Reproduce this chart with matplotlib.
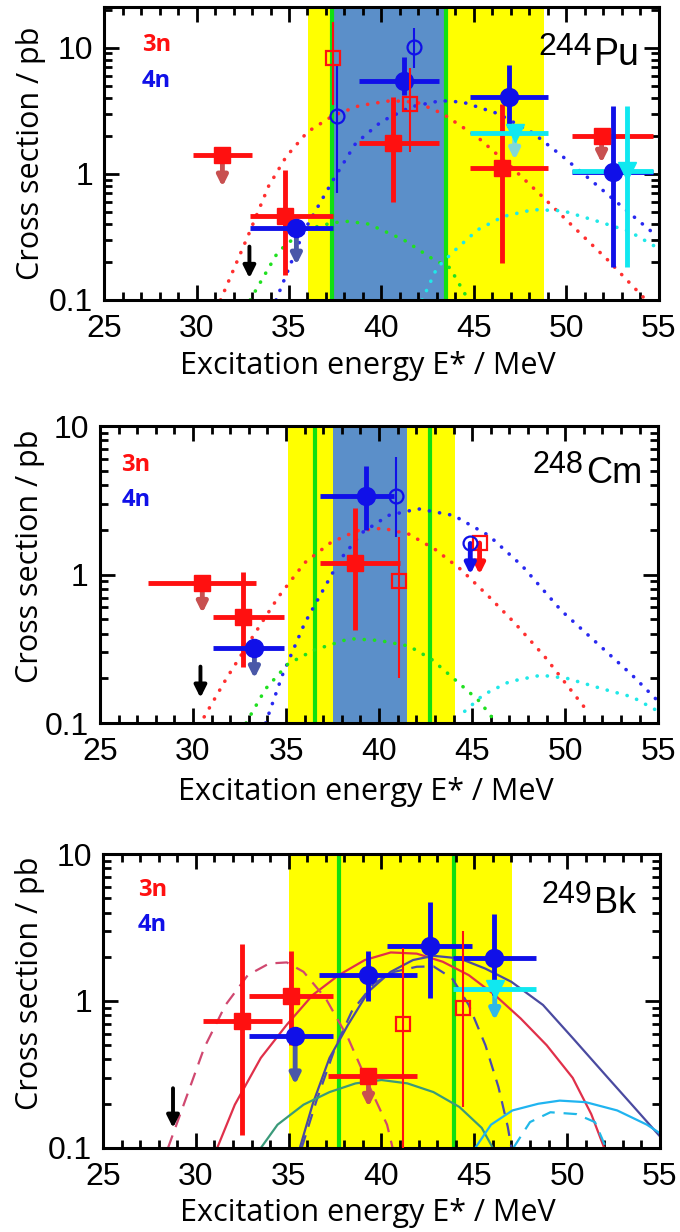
import matplotlib
matplotlib.use("Agg")
import matplotlib.pyplot as plt
from matplotlib import ticker
import numpy as np

# ---------------- 244Pu ----------------
pu_3n_E = [31.4, 34.8, 40.6, 46.5, 51.9]
pu_3n_sig = [1.40, 0.46, 1.75, 1.12, 1.98]
pu_3n_Elo = [29.8, 32.9, 38.8, 44.8, 50.3]
pu_3n_Ehi = [33.0, 37.4, 43.1, 49.0, 54.7]
pu_3n_siglo = [1.40, 0.157, 0.60, 0.195, 1.98]
pu_3n_sighi = [1.40, 1.07, 4.06, 3.6, 1.98]
pu_3n_lim = [0.79, None, None, None, 1.22]

pu_4n_E = [35.4, 41.2, 46.9, 52.5]
pu_4n_sig = [0.37, 5.4, 4.06, 1.04]
pu_4n_Elo = [32.9, 38.8, 44.8, 50.3]
pu_4n_Ehi = [37.4, 43.1, 49.0, 54.7]
pu_4n_siglo = [0.37, 4.2, 2.37, 0.184]
pu_4n_sighi = [0.37, 8.4, 7.3, 3.42]
pu_4n_lim = [0.19, None, None, None]

pu_5n_E = [47.2, 53.25]
pu_5n_sig = [2.1, 1.06]
pu_5n_Elo = [44.8, 50.3]
pu_5n_Ehi = [49.0, 54.7]
pu_5n_siglo = [2.1, 0.184]
pu_5n_sighi = [2.1, 3.45]
pu_5n_lim = [1.29, None]

pu_3n_open_E = [37.36, 41.54]
pu_3n_open_sig = [8.3, 3.57]
pu_3n_open_lo = [3.5, 1.5]
pu_3n_open_hi = [16.0, 6.9]
pu_4n_open_E = [37.57, 41.76]
pu_4n_open_sig = [2.85, 10.2]
pu_4n_open_lo = [0.71, 6.9]
pu_4n_open_hi = [7.3, 14.3]

pu_curve_3n_E = [31.3, 32.85, 33.9, 34.85, 36.0, 37.4, 38.8, 40.5, 41.9, 43.3, 45.2, 47.0, 48.7, 50.3, 52.2, 54.3]
pu_curve_3n_s = [0.1, 0.34, 0.80, 1.37, 2.15, 2.9, 3.47, 3.8, 3.7, 3.0, 1.95, 1.14, 0.66, 0.39, 0.21, 0.1]
pu_curve_4n_E = [34.3, 35.8, 37.4, 38.6, 40.0, 41.6, 43.2, 44.4, 46.3, 48.2, 49.8, 51.7, 53.4, 54.9]
pu_curve_4n_s = [0.1, 0.35, 0.9, 1.74, 2.6, 3.4, 3.8, 3.7, 3.0, 2.1, 1.37, 0.8, 0.49, 0.32]
pu_curve_2n_E = [32.9, 34.4, 35.8, 37.4, 38.2, 39.3, 41.2, 42.8, 43.7, 44.7]
pu_curve_2n_s = [0.1, 0.24, 0.36, 0.41, 0.42, 0.40, 0.30, 0.21, 0.18, 0.1]
pu_curve_5n_E = [42.2, 43.0, 44.0, 45.2, 46.6, 48.2, 49.8, 51.7, 53.4, 54.9]
pu_curve_5n_s = [0.1, 0.18, 0.25, 0.36, 0.46, 0.52, 0.51, 0.42, 0.35, 0.26]

pu_arrow = [32.86, 0.265, 0.149]
pu_yellow = [36.05, 48.8]
pu_blue = [37.39, 43.52]
pu_green = [37.3, 43.5]

# ---------------- 248Cm ----------------
cm_3n_E = [30.5, 32.7, 38.7]
cm_3n_sig = [0.88, 0.52, 1.19]
cm_3n_Elo = [27.6, 31.1, 36.8]
cm_3n_Ehi = [33.4, 34.9, 41.1]
cm_3n_siglo = [0.88, 0.24, 0.42]
cm_3n_sighi = [0.88, 1.04, 2.8]
cm_3n_lim = [0.55, None, None]

cm_4n_E = [33.3, 39.3]
cm_4n_sig = [0.32, 3.39]
cm_4n_Elo = [31.1, 36.8]
cm_4n_Ehi = [34.9, 40.8]
cm_4n_siglo = [0.32, 2.0]
cm_4n_sighi = [0.32, 5.4]
cm_4n_lim = [0.2, None]

cm_3n_open_E = [41.05, 45.4]
cm_3n_open_sig = [0.9, 1.63]
cm_3n_open_lo = [0.2, 1.63]
cm_3n_open_hi = [1.8, 1.63]
cm_3n_open_lim = [None, 1.0]
cm_4n_open_E = [40.9, 44.9]
cm_4n_open_sig = [3.4, 1.62]
cm_4n_open_lo = [1.8, 1.62]
cm_4n_open_hi = [6.2, 1.62]
cm_4n_open_lim = [None, 1.0]

cm_curve_3n_E = [30.6, 31.8, 33.2, 34.6, 36.0, 37.4, 38.8, 40.2, 41.6, 43.0, 44.4, 45.9, 47.3, 48.9, 50.1, 51.2]
cm_curve_3n_s = [0.11, 0.2, 0.38, 0.71, 1.2, 1.64, 1.97, 2.05, 1.87, 1.48, 1.08, 0.71, 0.47, 0.28, 0.18, 0.12]
cm_curve_4n_E = [33.9, 34.8, 36.0, 37.0, 37.9, 39.1, 40.5, 42.1, 44.0, 45.9, 47.7, 49.8, 52.0, 53.6, 55.0]
cm_curve_4n_s = [0.1, 0.21, 0.47, 0.79, 1.26, 1.92, 2.5, 2.77, 2.5, 1.83, 1.14, 0.57, 0.32, 0.21, 0.14]
cm_curve_2n_E = [32.85, 33.9, 35.1, 36.5, 38.4, 40.0, 41.6, 42.8, 44.2, 45.4, 46.3]
cm_curve_2n_s = [0.1, 0.17, 0.25, 0.31, 0.37, 0.36, 0.33, 0.27, 0.19, 0.14, 0.1]
cm_curve_5n_E = [44.6, 45.6, 47.0, 48.7, 50.1, 52.0, 53.6, 55.0]
cm_curve_5n_s = [0.12, 0.155, 0.19, 0.21, 0.2, 0.17, 0.15, 0.12]

cm_arrow = [30.4, 0.24, 0.148]
cm_yellow = [35.1, 44.1]
cm_blue = [37.5, 41.5]
cm_green = [36.55, 42.75]

# ---------------- 249Bk ----------------
bk_3n_E = [32.5, 35.1, 39.3]
bk_3n_sig = [0.73, 1.08, 0.31]
bk_3n_Elo = [30.4, 32.85, 37.1]
bk_3n_Ehi = [34.65, 37.4, 41.9]
bk_3n_siglo = [0.123, 0.5, 0.31]
bk_3n_sighi = [2.45, 2.2, 0.31]
bk_3n_lim = [None, None, 0.19]

bk_4n_E = [35.35, 39.3, 42.6, 46.05]
bk_4n_sig = [0.58, 1.51, 2.36, 1.97]
bk_4n_Elo = [32.85, 36.65, 40.3, 43.85]
bk_4n_Ehi = [37.4, 41.9, 44.9, 48.3]
bk_4n_siglo = [0.58, 1.0, 1.05, 1.1]
bk_4n_sighi = [0.58, 2.2, 4.7, 3.9]
bk_4n_lim = [0.27, None, None, None]

bk_5n_E = [46.1]
bk_5n_sig = [1.2]
bk_5n_Elo = [43.85]
bk_5n_Ehi = [48.3]
bk_5n_siglo = [1.2]
bk_5n_sighi = [1.2]
bk_5n_lim = [0.74]

bk_3n_open_E = [41.15, 44.4]
bk_3n_open_sig = [0.7, 0.89]
bk_3n_open_lo = [0.1, 0.19]
bk_3n_open_hi = [2.3, 3.0]

bk_curve_3n_E = [31.15, 32.1, 33.5, 34.9, 36.3, 37.7, 39.1, 40.5, 41.9, 43.3, 44.7, 46.1, 47.5, 48.9, 50.3, 51.3, 52.0]
bk_curve_3n_s = [0.1, 0.197, 0.41, 0.69, 1.1, 1.5, 1.9, 2.14, 2.1, 1.85, 1.5, 1.1, 0.76, 0.5, 0.3, 0.17, 0.1]
bk_dash_3n_E = [28.5, 29.3, 30.45, 31.6, 32.8, 33.95, 34.9, 35.8, 37.0, 38.2, 39.3, 40.3, 40.6]
bk_dash_3n_s = [0.1, 0.19, 0.48, 0.94, 1.5, 1.8, 1.83, 1.58, 1.04, 0.56, 0.27, 0.144, 0.1]
bk_curve_4n_E = [35.6, 36.3, 37.2, 38.2, 39.3, 40.5, 41.7, 42.8, 44.2, 45.6, 47.0, 48.7, 50.3, 52.2, 53.6, 55.0]
bk_curve_4n_s = [0.1, 0.2, 0.41, 0.69, 1.16, 1.58, 1.9, 2.03, 1.95, 1.66, 1.35, 0.94, 0.56, 0.3, 0.19, 0.12]
bk_dash_4n_E = [35.7, 36.5, 37.5, 38.4, 39.6, 40.7, 41.9, 42.8, 43.8, 44.7, 45.6, 46.3, 46.8, 47.0]
bk_dash_4n_s = [0.1, 0.21, 0.48, 0.85, 1.32, 1.58, 1.71, 1.72, 1.43, 0.94, 0.5, 0.26, 0.14, 0.1]
bk_curve_2n_E = [33.5, 34.4, 35.8, 37.2, 38.6, 40.0, 41.4, 42.8, 44.2, 45.4, 46.0]
bk_curve_2n_s = [0.1, 0.144, 0.197, 0.24, 0.275, 0.29, 0.275, 0.24, 0.19, 0.137, 0.1]
bk_curve_5n_E = [45.05, 45.9, 47.05, 48.45, 49.6, 51.0, 52.7, 54.3, 55.0]
bk_curve_5n_s = [0.1, 0.144, 0.18, 0.2, 0.21, 0.205, 0.18, 0.144, 0.126]
bk_dash_5n_E = [47.1, 48.0, 49.1, 50.5, 51.5, 52.1]
bk_dash_5n_s = [0.1, 0.15, 0.175, 0.17, 0.15, 0.1]

bk_arrow = [28.77, 0.255, 0.137]
bk_yellow = [35.0, 47.05]
bk_green = [37.7, 43.9]

RED = "#ff1010"
BLUE = "#1010e8"
CYAN = "#10e8f0"
RED_ARR = "#c85050"
BLUE_ARR = "#4a58a8"
CYAN_ARR = "#80d8d8"

DOT = dict(lw=2.6, dash_capstyle="round")
DOTS = (0, (0.05, 2.8))

plt.rcParams["font.family"] = ["Liberation Sans", "DejaVu Sans"]

fig = plt.figure(figsize=(6.8, 12.32), dpi=100)
ax1 = fig.add_axes([0.153, 0.7565, 0.816, 0.2378])
ax2 = fig.add_axes([0.147, 0.4131, 0.821, 0.2411])
ax3 = fig.add_axes([0.1515, 0.0682, 0.819, 0.2386])


def setup(ax, ytop, xlab_y, ylab_x, ylab_y):
    ax.set_yscale("log")
    ax.set_xlim(25, 55)
    ax.set_ylim(0.1, ytop)
    ax.xaxis.set_major_locator(ticker.MultipleLocator(5))
    ax.xaxis.set_minor_locator(ticker.MultipleLocator(1))
    ax.yaxis.set_major_locator(ticker.FixedLocator([0.1, 1, 10]))
    ax.yaxis.set_minor_locator(ticker.LogLocator(base=10, subs=np.arange(2, 10)))
    ax.yaxis.set_major_formatter(ticker.FuncFormatter(lambda v, p: "%g" % v))
    ax.yaxis.set_minor_formatter(ticker.NullFormatter())
    ax.tick_params(which="both", direction="in", top=True, right=True, width=2, labelsize=23)
    ax.tick_params(which="major", length=11)
    ax.tick_params(which="minor", length=6)
    ax.tick_params(axis="x", pad=10)
    ax.tick_params(axis="y", pad=8)
    for s in ax.spines.values():
        s.set_linewidth(2.2)
    ax.set_xlabel("Excitation energy E* / MeV", fontsize=22, family="Open Sans")
    ax.set_ylabel("Cross section / pb", fontsize=22, family="Open Sans")
    ax.xaxis.set_label_coords(0.476, xlab_y)
    ax.yaxis.set_label_coords(ylab_x, ylab_y)


def bands(ax, yellow, blue, green):
    ax.axvspan(yellow[0], yellow[1], color="#ffff00", lw=0, zorder=0)
    if blue is not None:
        ax.axvspan(blue[0], blue[1], color="#5b8fc9", lw=0, zorder=0.5)
    for g in green:
        ax.axvline(g, color="#10e010", lw=3, zorder=0.8)


def points(ax, E, s, Elo, Ehi, slo, shi, lim, color, marker, ms, arrc):
    E = np.array(E); s = np.array(s)
    xe = [E - np.array(Elo), np.array(Ehi) - E]
    ye = [s - np.array(slo), np.array(shi) - s]
    for i in range(len(E)):
        if lim[i] is not None:
            ax.annotate("", xy=(E[i], lim[i]), xytext=(E[i], s[i]),
                        arrowprops=dict(arrowstyle="-|>", color=arrc, lw=3.5,
                                        mutation_scale=15, shrinkA=0, shrinkB=0),
                        zorder=4)
    ax.errorbar(E, s, xerr=xe, yerr=ye, fmt=marker, ms=ms, color=color,
                elinewidth=3.5, capsize=0, zorder=5)


def open_points(ax, E, s, lo, hi, color, marker, lim=None):
    E = np.array(E); s = np.array(s)
    ye = [s - np.array(lo), np.array(hi) - s]
    if lim is not None:
        for i in range(len(E)):
            if lim[i] is not None:
                ax.annotate("", xy=(E[i], lim[i]), xytext=(E[i], s[i]),
                            arrowprops=dict(arrowstyle="-|>", color=color, lw=3.5,
                                            mutation_scale=15, shrinkA=0, shrinkB=0),
                            zorder=4)
    ax.errorbar(E, s, yerr=ye, fmt=marker, ms=10, mfc="none", mec=color, mew=1.6,
                color=color, elinewidth=1.5, capsize=0, zorder=6)


def black_arrow(ax, a):
    ax.annotate("", xy=(a[0], a[2]), xytext=(a[0], a[1]),
                arrowprops=dict(arrowstyle="-|>", color="black", lw=2.8,
                                mutation_scale=18, shrinkA=0, shrinkB=0), zorder=4)


def labels(ax, xs, y3, y4, num, sym, xn, yb, nsize, ssize):
    ax.text(xs, y3, "3n", color=RED, fontsize=17, fontweight="bold", va="center",
            transform=ax.transAxes, family="Open Sans")
    ax.text(xs, y4, "4n", color=BLUE, fontsize=17, fontweight="bold", va="center",
            transform=ax.transAxes, family="Open Sans")
    ax.text(xn, yb + 0.035, num, fontsize=nsize, ha="right", va="baseline",
            transform=ax.transAxes)
    ax.text(xn + 0.004, yb, sym, fontsize=ssize, ha="left", va="baseline",
            transform=ax.transAxes)


# ---- panel 1 ----
setup(ax1, 21, -0.175, -0.105, 0.5)
bands(ax1, pu_yellow, pu_blue, pu_green)
ax1.plot(pu_curve_3n_E, pu_curve_3n_s, color="#ff3030", ls=DOTS, zorder=2, **DOT)
ax1.plot(pu_curve_4n_E, pu_curve_4n_s, color="#2828f0", ls=DOTS, zorder=2, **DOT)
ax1.plot(pu_curve_2n_E, pu_curve_2n_s, color="#20e020", ls=DOTS, zorder=2, **DOT)
ax1.plot(pu_curve_5n_E, pu_curve_5n_s, color="#20e8e8", ls=DOTS, zorder=2, **DOT)
black_arrow(ax1, pu_arrow)
open_points(ax1, pu_3n_open_E, pu_3n_open_sig, pu_3n_open_lo, pu_3n_open_hi, RED, "s")
open_points(ax1, pu_4n_open_E, pu_4n_open_sig, pu_4n_open_lo, pu_4n_open_hi, BLUE, "o")
points(ax1, pu_3n_E, pu_3n_sig, pu_3n_Elo, pu_3n_Ehi, pu_3n_siglo, pu_3n_sighi, pu_3n_lim, RED, "s", 12, RED_ARR)
points(ax1, pu_4n_E, pu_4n_sig, pu_4n_Elo, pu_4n_Ehi, pu_4n_siglo, pu_4n_sighi, pu_4n_lim, BLUE, "o", 13, BLUE_ARR)
points(ax1, pu_5n_E, pu_5n_sig, pu_5n_Elo, pu_5n_Ehi, pu_5n_siglo, pu_5n_sighi, pu_5n_lim, CYAN, "v", 13, CYAN_ARR)
labels(ax1, 0.068, 0.870, 0.747, "244", "Pu", 0.879, 0.802, 23, 27)

# ---- panel 2 ----
setup(ax2, 10, -0.182, -0.099, 0.56)
bands(ax2, cm_yellow, cm_blue, cm_green)
ax2.plot(cm_curve_3n_E, cm_curve_3n_s, color="#ff3030", ls=DOTS, zorder=2, **DOT)
ax2.plot(cm_curve_4n_E, cm_curve_4n_s, color="#2828f0", ls=DOTS, zorder=2, **DOT)
ax2.plot(cm_curve_2n_E, cm_curve_2n_s, color="#20e020", ls=DOTS, zorder=2, **DOT)
ax2.plot(cm_curve_5n_E, cm_curve_5n_s, color="#20e8e8", ls=DOTS, zorder=2, **DOT)
black_arrow(ax2, cm_arrow)
open_points(ax2, cm_3n_open_E, cm_3n_open_sig, cm_3n_open_lo, cm_3n_open_hi, RED, "s", cm_3n_open_lim)
open_points(ax2, cm_4n_open_E, cm_4n_open_sig, cm_4n_open_lo, cm_4n_open_hi, BLUE, "o", cm_4n_open_lim)
points(ax2, cm_3n_E, cm_3n_sig, cm_3n_Elo, cm_3n_Ehi, cm_3n_siglo, cm_3n_sighi, cm_3n_lim, RED, "s", 12, RED_ARR)
points(ax2, cm_4n_E, cm_4n_sig, cm_4n_Elo, cm_4n_Ehi, cm_4n_siglo, cm_4n_sighi, cm_4n_lim, BLUE, "o", 13, BLUE_ARR)
labels(ax2, 0.038, 0.869, 0.751, "248", "Cm", 0.866, 0.808, 22, 26)

# ---- panel 3 ----
setup(ax3, 10, -0.17, -0.104, 0.56)
bands(ax3, bk_yellow, None, bk_green)
ax3.plot(bk_curve_3n_E, bk_curve_3n_s, color="#e0304a", lw=1.6, zorder=2)
ax3.plot(bk_dash_3n_E, bk_dash_3n_s, color="#d04870", lw=1.6, ls=(0, (6, 4)), zorder=2)
ax3.plot(bk_curve_4n_E, bk_curve_4n_s, color="#4a4aa0", lw=1.6, zorder=2)
ax3.plot(bk_dash_4n_E, bk_dash_4n_s, color="#4a4ab0", lw=1.6, ls=(0, (6, 4)), zorder=2)
ax3.plot(bk_curve_2n_E, bk_curve_2n_s, color="#3a9a7a", lw=1.6, zorder=2)
ax3.plot(bk_curve_5n_E, bk_curve_5n_s, color="#20b4f0", lw=1.6, zorder=2)
ax3.plot(bk_dash_5n_E, bk_dash_5n_s, color="#20b8e8", lw=1.6, ls=(0, (6, 4)), zorder=2)
black_arrow(ax3, bk_arrow)
open_points(ax3, bk_3n_open_E, bk_3n_open_sig, bk_3n_open_lo, bk_3n_open_hi, RED, "s")
points(ax3, bk_3n_E, bk_3n_sig, bk_3n_Elo, bk_3n_Ehi, bk_3n_siglo, bk_3n_sighi, bk_3n_lim, RED, "s", 12, RED_ARR)
points(ax3, bk_4n_E, bk_4n_sig, bk_4n_Elo, bk_4n_Ehi, bk_4n_siglo, bk_4n_sighi, bk_4n_lim, BLUE, "o", 13, BLUE_ARR)
points(ax3, bk_5n_E, bk_5n_sig, bk_5n_Elo, bk_5n_Ehi, bk_5n_siglo, bk_5n_sighi, bk_5n_lim, CYAN, "v", 13, "#30b8e8")
labels(ax3, 0.063, 0.878, 0.758, "249", "Bk", 0.878, 0.80, 22, 26)

fig.savefig("out.png", dpi=100)
